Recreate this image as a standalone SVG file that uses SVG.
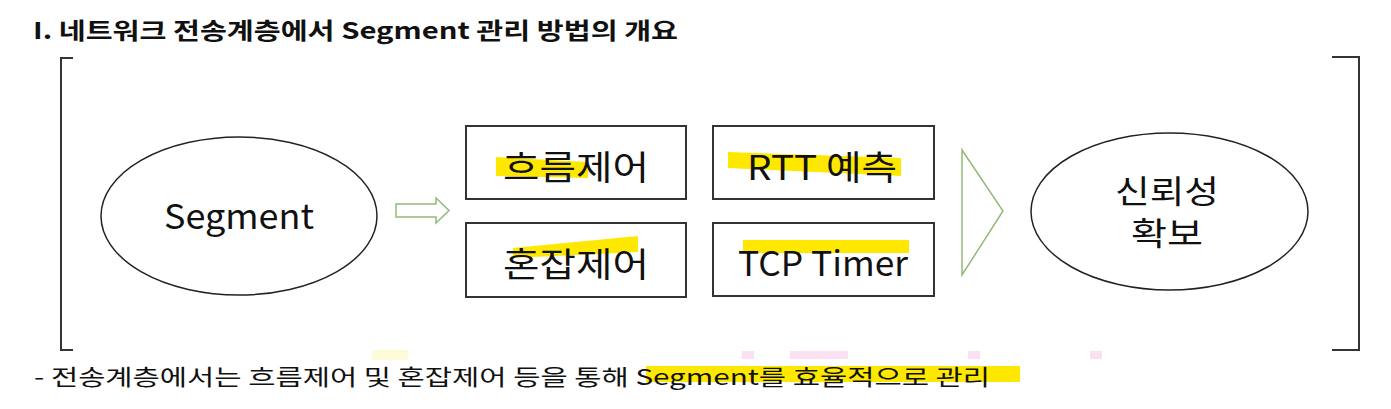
<svg xmlns="http://www.w3.org/2000/svg" width="1391" height="409" viewBox="0 0 1391 409">
<style>
text{font-family:"Noto Sans CJK KR","Noto Sans",sans-serif;fill:#111;}
.t{font-size:23px;font-weight:bold;}
.b{font-size:22px;}
.n{font-size:34px;text-anchor:middle;}
.m{font-size:32px;text-anchor:middle;}
.box{fill:#fff;stroke:#333;stroke-width:2;}
.ell{fill:#fff;stroke:#222;stroke-width:1.5;}
.br{fill:none;stroke:#333;stroke-width:2;}
.hl{fill:#ffe800;}
.ar{fill:#fff;stroke:#93b97a;stroke-width:1.5;stroke-linejoin:miter;}
</style>
<rect width="1391" height="409" fill="#fff"/>
<text class="t" x="33" y="39" textLength="645" lengthAdjust="spacingAndGlyphs">I. 네트워크 전송계층에서 Segment 관리 방법의 개요</text>
<g id="brackets">
<path class="br" d="M73,58 H61 V350 H73"/>
<path class="br" d="M1332,57 H1359 V350 H1332"/>
</g>
<g id="segment">
<ellipse class="ell" cx="239" cy="216" rx="138" ry="79"/>
<text class="n" x="239" y="229" textLength="150" lengthAdjust="spacingAndGlyphs">Segment</text>
</g>
<g id="flow">
<rect class="box" x="466" y="126" width="220" height="73"/>
<polygon class="hl" points="496,157 588,162 588,178 496,176"/>
<text class="n" x="576" y="180" textLength="146" lengthAdjust="spacingAndGlyphs">흐름제어</text>
</g>
<g id="rtt">
<rect class="box" x="713" y="126" width="221" height="73"/>
<polygon class="hl" points="728,152 901,158 901,176 728,168"/>
<text class="n" x="822" y="180" textLength="150" lengthAdjust="spacingAndGlyphs">RTT 예측</text>
</g>
<g id="congestion">
<rect class="box" x="466" y="223" width="220" height="74"/>
<polygon class="hl" points="513,248 638,236 638,252 513,258"/>
<text class="n" x="576" y="277" textLength="146" lengthAdjust="spacingAndGlyphs">혼잡제어</text>
</g>
<g id="timer">
<rect class="box" x="713" y="223" width="221" height="73"/>
<polygon class="hl" points="743,240 909,240 909,253 743,253"/>
<text class="n" x="823" y="276" textLength="170" lengthAdjust="spacingAndGlyphs">TCP Timer</text>
</g>
<g id="reliability">
<ellipse class="ell" cx="1169.5" cy="211.5" rx="138.5" ry="78.5"/>
<text class="m" x="1167" y="203" textLength="104" lengthAdjust="spacingAndGlyphs">신뢰성</text>
<text class="m" x="1167" y="245" textLength="72" lengthAdjust="spacingAndGlyphs">확보</text>
</g>
<g id="connectors">
<polygon class="ar" points="396,204 436,204 436,198 449,210.5 436,223 436,217 396,217"/>
<polygon class="ar" points="962,150 1003,211 962,275"/>
</g>
<rect x="372" y="350" width="36" height="10" fill="#fdfbd8"/>
<rect x="742" y="351" width="12" height="8" fill="#fbe0f2"/>
<rect x="790" y="351" width="58" height="8" fill="#fbe0f2"/>
<rect x="968" y="351" width="12" height="8" fill="#fbe0f2"/>
<rect x="1090" y="351" width="12" height="8" fill="#fbe0f2"/>
<rect class="hl" x="646" y="366" width="374" height="16"/>
<text class="b" x="34" y="385" textLength="956" lengthAdjust="spacingAndGlyphs">- 전송계층에서는 흐름제어 및 혼잡제어 등을 통해 Segment를 효율적으로 관리</text>
</svg>
